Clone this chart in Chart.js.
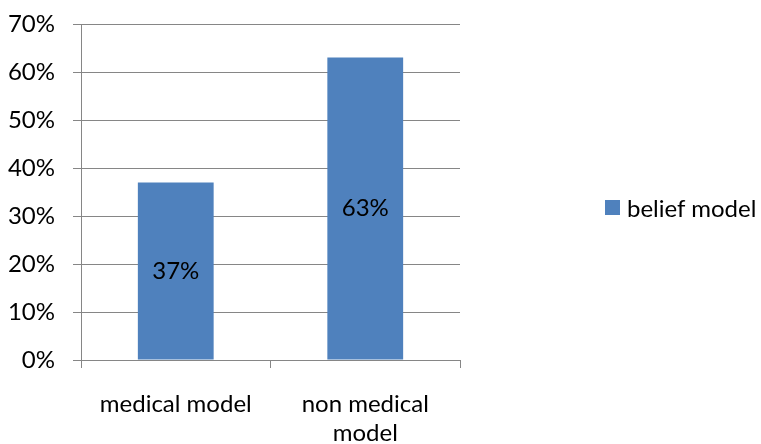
<!DOCTYPE html>
<html>
<head>
    <title>Belief model</title>
    <script src="https://cdn.jsdelivr.net/npm/chart.js@4.4.1/dist/chart.umd.min.js"></script>
    <style>
        html, body { margin: 0; padding: 0; background: #fff; }
        #wrap { position: relative; width: 761px; height: 444px; }
        #legend {
            position: absolute; left: 605px; top: 193px;
            display: flex; align-items: center;
            font-family: Lato, "Liberation Sans", sans-serif; font-size: 24px; color: #000;
        }
        #legend .box { width: 15px; height: 15px; margin-right: 7px; }
    </style>
</head>
<body>
    <div id="wrap">
        <canvas id="chart" width="761" height="444"></canvas>
        <div id="legend"></div>
    </div>
    <script>
        const categories = [['medical model'], ['non medical', 'model']];
        const seriesName = 'belief model';
        const beliefValues = [37, 63];
        const yTicks = [0, 10, 20, 30, 40, 50, 60, 70];

        const BAR_COLOR = '#4F81BD';
        const GRID_COLOR = '#868686';
        const FONT = { family: 'Lato, "Liberation Sans", sans-serif', size: 24 };

        // percent text in the middle of each bar
        const barLabels = {
            id: 'barLabels',
            afterDatasetsDraw(chart) {
                const ctx = chart.ctx;
                const meta = chart.getDatasetMeta(0);
                ctx.save();
                ctx.font = `${FONT.size}px ${FONT.family}`;
                ctx.fillStyle = '#000';
                ctx.textAlign = 'center';
                ctx.textBaseline = 'middle';
                meta.data.forEach((bar, i) => {
                    const v = chart.data.datasets[0].data[i];
                    ctx.fillText(v + '%', bar.x, (bar.y + bar.base) / 2);
                });
                ctx.restore();
            }
        };

        const chart = new Chart(document.getElementById('chart'), {
            type: 'bar',
            data: {
                labels: categories,
                datasets: [{
                    label: seriesName,
                    data: beliefValues,
                    backgroundColor: BAR_COLOR,
                    borderWidth: 0,
                    categoryPercentage: 1,
                    barPercentage: 0.4
                }]
            },
            options: {
                responsive: false,
                animation: false,
                layout: { padding: { top: 24, right: 301, left: 0, bottom: 0 } },
                plugins: {
                    legend: { display: false },
                    tooltip: { enabled: false }
                },
                scales: {
                    x: {
                        grid: {
                            offset: true,
                            drawOnChartArea: false,
                            drawTicks: true,
                            tickLength: 8,
                            color: GRID_COLOR
                        },
                        border: { color: GRID_COLOR },
                        ticks: {
                            color: '#000',
                            font: FONT,
                            padding: 22,
                            maxRotation: 0
                        },
                        afterFit(scale) { scale.height = 84; }
                    },
                    y: {
                        min: 0,
                        max: 70,
                        afterBuildTicks(scale) {
                            scale.ticks = yTicks.map(v => ({ value: v }));
                        },
                        grid: { color: GRID_COLOR, tickLength: 8 },
                        border: { color: GRID_COLOR },
                        ticks: {
                            color: '#000',
                            font: FONT,
                            padding: 18,
                            callback: v => v + '%'
                        },
                        afterFit(scale) {
                            scale.width = 81;
                            scale.paddingTop = 0;
                            scale.paddingBottom = 0;
                        }
                    }
                }
            },
            plugins: [barLabels]
        });

        const legend = document.getElementById('legend');
        chart.data.datasets.forEach(ds => {
            const item = document.createElement('div');
            item.style.display = 'flex';
            item.style.alignItems = 'center';
            item.innerHTML = `<span class="box" style="background:${ds.backgroundColor}"></span><span>${ds.label}</span>`;
            legend.appendChild(item);
        });
    </script>
</body>
</html>
